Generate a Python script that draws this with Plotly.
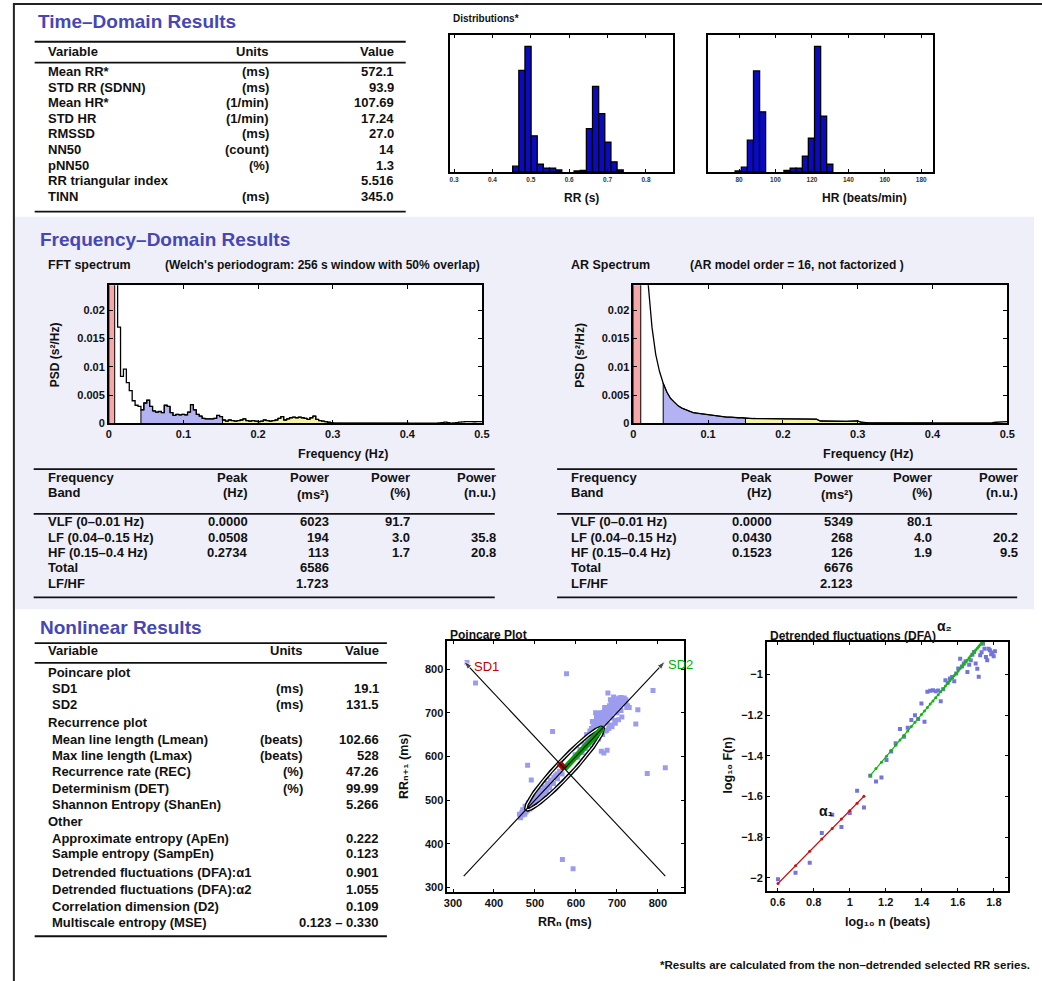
import numpy as np
import plotly.graph_objects as go

W, H = 1042, 981
FONT = "Liberation Sans, Arial, Helvetica, DejaVu Sans, sans-serif"
INK = "#111111"
HEAD = "#4646b6"
BAND = "#efeffa"

# ---------------- Time-domain results ----------------
time_vars = ["Mean RR*", "STD RR (SDNN)", "Mean HR*", "STD HR", "RMSSD", "NN50",
             "pNN50", "RR triangular index", "TINN"]
time_units = ["(ms)", "(ms)", "(1/min)", "(1/min)", "(ms)", "(count)", "(%)", "", "(ms)"]
time_values = ["572.1", "93.9", "107.69", "17.24", "27.0", "14", "1.3", "5.516", "345.0"]

# ---------------- RR / HR distributions ----------------
RR_BIN_WIDTH = 0.016
rr_bin_centers = [0.4607, 0.4767, 0.4927, 0.5087, 0.5247, 0.5407, 0.5567, 0.5727,
                  0.6207, 0.6367, 0.6527, 0.6687, 0.6847, 0.7007, 0.7167, 0.7327]
rr_counts = [12, 211, 261, 75, 16, 8, 8, 4, 2, 3, 90, 178, 121, 62, 21, 4]
rr_ticks = [0.3, 0.4, 0.5, 0.6, 0.7, 0.8]

HR_BIN_WIDTH = 3.35
hr_bin_centers = [79.5, 82.9, 86.2, 89.6, 92.9, 106.3, 109.7, 113.0, 116.4, 119.7,
                  123.1, 126.4, 129.8]
hr_counts = [2, 10, 66, 210, 125, 3, 8, 8, 33, 70, 261, 116, 16]
hr_ticks = [80, 100, 120, 140, 160, 180]

# ---------------- Frequency domain ----------------
FFT_WINDOW_S = 256          # Welch window length -> bin spacing 1/256 Hz
fft_psd = [
    0.095, 0.150, 0.060, 0.0170, 0.0083, 0.0096, 0.0072, 0.0058, 0.0040, 0.0032,
    0.0030, 0.0024, 0.0036, 0.0041, 0.0030, 0.0022, 0.0020, 0.0021, 0.0019, 0.0032,
    0.0030, 0.0019, 0.0014, 0.0016, 0.0015, 0.0016, 0.0015, 0.0020, 0.0033, 0.0024,
    0.0016, 0.0013, 0.0009, 0.0008, 0.0008, 0.0008, 0.0009, 0.0014, 0.0012, 0.0006,
    0.0004, 0.0006, 0.0005, 0.0004, 0.0005, 0.0006, 0.0008, 0.0005, 0.0004, 0.0005,
    0.0004, 0.0003, 0.0004, 0.0006, 0.0005, 0.0004, 0.0005, 0.0006, 0.0009, 0.0012,
    0.0006, 0.0008, 0.0010, 0.0011, 0.0010, 0.0011, 0.0010, 0.0009, 0.0007, 0.0010,
    0.0013, 0.0007, 0.0005, 0.0004, 0.0003, 0.0002, 0.0001, 0.00006, 0.00005, 0.00005,
    0.00004, 0.00004, 0.00004, 0.00004, 0.00004, 0.00004, 0.00004, 0.00004, 0.00004, 0.00004,
    0.00004, 0.00004, 0.00004, 0.00004, 0.00004, 0.00004, 0.00004, 0.00004, 0.00004, 0.00004,
    0.00004, 0.00004, 0.00004, 0.00004, 0.00004, 0.00004, 0.00004, 0.00004, 0.00004, 0.00004,
    0.00004, 0.00004, 0.00005, 0.00008, 0.00015, 0.00022, 0.00012, 0.00006, 0.00008, 0.00015,
    0.00022, 0.00028, 0.00030, 0.00031, 0.00030, 0.00029, 0.00030, 0.00031, 0.00030,
]

AR_STEP_HZ = 0.005
ar_psd = [
    0.30, 0.25, 0.15, 0.060, 0.0245, 0.0170, 0.0122, 0.0092, 0.0071, 0.0055,
    0.0044, 0.0037, 0.0031, 0.0027, 0.0024, 0.0021, 0.0019, 0.0018, 0.0017, 0.0016,
    0.0015, 0.0014, 0.0013, 0.0012, 0.0012, 0.0011, 0.0011, 0.0010, 0.0010, 0.0010,
    0.00092, 0.00088, 0.00086, 0.00085, 0.00084, 0.00083, 0.00082, 0.00082, 0.00081, 0.00081,
    0.00080, 0.00080, 0.00079, 0.00079, 0.00078, 0.00078, 0.00077, 0.00077, 0.00076, 0.00074,
    0.00042, 0.00040, 0.00039, 0.00038, 0.00037, 0.00036, 0.00036, 0.00037, 0.00039, 0.00041,
    0.00043, 0.00020, 0.00010, 0.00008, 0.00007, 0.00007, 0.00006, 0.00006, 0.00006, 0.00006,
    0.00006, 0.00006, 0.00006, 0.00006, 0.00006, 0.00006, 0.00006, 0.00006, 0.00006, 0.00006,
    0.00006, 0.00006, 0.00006, 0.00006, 0.00006, 0.00006, 0.00006, 0.00006, 0.00006, 0.00006,
    0.00006, 0.00006, 0.00006, 0.00007, 0.00008, 0.00010, 0.00014, 0.00020, 0.00026, 0.00030,
    0.00032,
]

band_limits = {"VLF": (0.0, 0.01), "LF": (0.04, 0.15), "HF": (0.15, 0.40)}
band_colors = {"VLF": "#f6a8a8", "LF": "#b3b3f4", "HF": "#f4f4a2"}

freq_bands = ["VLF (0–0.01 Hz)", "LF (0.04–0.15 Hz)", "HF (0.15–0.4 Hz)", "Total", "LF/HF"]
fft_peak = ["0.0000", "0.0508", "0.2734", "", ""]
fft_power = ["6023", "194", "113", "6586", "1.723"]
fft_pct = ["91.7", "3.0", "1.7", "", ""]
fft_nu = ["", "35.8", "20.8", "", ""]
ar_peak = ["0.0000", "0.0430", "0.1523", "", ""]
ar_power = ["5349", "268", "126", "6676", "2.123"]
ar_pct = ["80.1", "4.0", "1.9", "", ""]
ar_nu = ["", "20.2", "9.5", "", ""]

# ---------------- Nonlinear results ----------------
nl_labels = ["Poincare plot", "SD1", "SD2", "Recurrence plot", "Mean line length (Lmean)",
             "Max line length (Lmax)", "Recurrence rate (REC)", "Determinism (DET)",
             "Shannon Entropy (ShanEn)", "Other", "Approximate entropy (ApEn)",
             "Sample entropy (SampEn)", "Detrended fluctuations (DFA):α1",
             "Detrended fluctuations (DFA):α2", "Correlation dimension (D2)",
             "Multiscale entropy (MSE)"]
nl_units = ["", "(ms)", "(ms)", "", "(beats)", "(beats)", "(%)", "(%)", "", "", "", "",
            "", "", "", ""]
nl_values = ["", "19.1", "131.5", "", "102.66", "528", "47.26", "99.99", "5.266", "",
             "0.222", "0.123", "0.901", "1.055", "0.109", "0.123 – 0.330"]
nl_sections = {"Poincare plot", "Recurrence plot", "Other"}

mean_rr = 572.1
sd1 = 19.1
sd2 = 131.5

rr_n = [
    462, 465, 468, 470, 472, 474, 476, 478, 480, 482, 484, 486, 488, 490, 492, 494, 496, 498,
    500, 502, 505, 508, 511, 514, 517, 520, 524, 528, 532, 536, 540, 545, 550, 555, 560, 566,
    470, 476, 484, 490, 498, 506, 514, 522, 530, 538, 546, 554, 475, 488, 500,
    598, 604, 610, 615, 620, 624, 628, 632, 636, 638, 640, 643, 645, 647, 650, 652, 654, 656,
    658, 660, 662, 664, 666, 668, 670, 672, 674, 676, 678, 680, 682, 684, 686, 688, 690, 692,
    694, 696, 698, 700, 702, 704, 706, 708, 710, 714, 718, 722, 726, 730,
    640, 650, 660, 655, 665, 675, 685, 695, 648, 670, 690, 700, 710, 688, 676, 664, 652, 640,
    662, 668, 676,
    626, 630, 634, 638, 642, 646, 650, 654, 658, 662, 666, 670, 674, 678, 682, 686, 690, 694,
    698, 702, 706, 710, 714, 718, 722, 712, 704, 696, 688, 680, 672, 664, 656, 648, 700, 708,
    716, 724, 692, 684,
    334, 355, 577, 678, 788, 751, 746, 543, 482, 491, 774, 818, 567, 593,
]
rr_n1 = [
    468, 460, 472, 466, 475, 470, 479, 473, 484, 477, 488, 481, 492, 485, 496, 489, 500, 493,
    505, 497, 510, 502, 514, 507, 519, 512, 526, 519, 535, 528, 546, 538, 556, 549, 566, 560,
    478, 486, 494, 500, 508, 515, 522, 530, 538, 545, 552, 560, 468, 480, 492,
    604, 598, 616, 609, 628, 618, 636, 626, 645, 632, 652, 640, 660, 648, 666, 655, 672, 662,
    676, 668, 682, 673, 688, 678, 692, 683, 697, 688, 702, 693, 706, 697, 710, 701, 714, 705,
    718, 709, 722, 713, 725, 716, 728, 719, 726, 722, 728, 720, 716, 712,
    680, 690, 700, 640, 650, 660, 672, 682, 700, 712, 728, 700, 705, 688, 676, 664, 652, 640,
    612, 608, 614,
    650, 646, 658, 664, 668, 676, 680, 684, 690, 694, 700, 704, 708, 712, 716, 720, 724, 726,
    730, 732, 734, 735, 730, 734, 730, 690, 684, 676, 668, 664, 658, 650, 644, 636, 728, 718,
    724, 712, 736, 730,
    815, 768, 789, 745, 751, 707, 674, 657, 580, 546, 561, 574, 364, 343,
]

# DFA: log10(n) against log10 F(n)
dfa_x1 = [0.602, 0.699, 0.778, 0.845, 0.903, 0.954, 1.000, 1.041, 1.079]
dfa_y1 = [-2.008, -1.975, -1.926, -1.780, -1.690, -1.750, -1.681, -1.572, -1.654]
dfa_x2 = [1.114, 1.146, 1.176, 1.204, 1.230, 1.255, 1.279, 1.301, 1.322, 1.342, 1.362,
          1.380, 1.398, 1.415, 1.431, 1.447, 1.462, 1.477, 1.491, 1.505, 1.519, 1.531,
          1.544, 1.556, 1.568, 1.580, 1.591, 1.602, 1.613, 1.623, 1.633, 1.643, 1.653,
          1.663, 1.672, 1.681, 1.690, 1.699, 1.708, 1.716, 1.724, 1.732, 1.740, 1.748,
          1.756, 1.763, 1.771, 1.778, 1.785, 1.792, 1.799, 1.806]
dfa_y2 = [-1.498, -1.526, -1.507, -1.420, -1.379, -1.338, -1.268, -1.306, -1.262, -1.224,
          -1.200, -1.219, -1.142, -1.232, -1.085, -1.080, -1.077, -1.082, -1.078, -1.131,
          -1.072, -1.028, -1.040, -1.020, -1.012, -1.033, -0.995, -0.970, -0.922, -0.960,
          -0.946, -0.935, -0.987, -0.952, -0.930, -0.902, -0.889, -0.946, -0.971, -1.011,
          -0.905, -0.890, -0.848, -0.873, -0.913, -0.930, -0.873, -0.880, -0.900, -0.892,
          -0.910, -0.885]
alpha1, intercept1 = 0.901, -2.571
alpha2, intercept2 = 1.055, -2.672

# =====================================================================
annotations = []
shapes = []


def X(p):
    return p / W


def Y(p):
    return 1 - p / H


def label(x, y, s, size=13, anchor="left", color=INK, bold=True, angle=0):
    if not s:
        return
    annotations.append(dict(
        x=X(x), y=Y(y), xref="paper", yref="paper", text=s, showarrow=False,
        xanchor=anchor, yanchor="middle", textangle=angle,
        font=dict(family=FONT, size=size, color=color, weight="bold" if bold else "normal"),
    ))


def rule(x0, x1, y, width=1.8):
    shapes.append(dict(type="line", xref="paper", yref="paper", x0=X(x0), x1=X(x1),
                       y0=Y(y), y1=Y(y), line=dict(color=INK, width=width)))


def rect(x0, y0, x1, y1, fill, layer="below"):
    shapes.append(dict(type="rect", xref="paper", yref="paper", x0=X(x0), x1=X(x1),
                       y0=Y(y1), y1=Y(y0), fillcolor=fill, layer=layer,
                       line=dict(color=fill, width=0)))


def axis(x0, x1, y0, y1):
    xa = dict(domain=[X(x0), X(x1)], showline=True, linecolor="black", linewidth=1.6,
              mirror="ticks", ticks="inside", ticklen=4, tickcolor="black", showgrid=False,
              zeroline=False, fixedrange=True,
              tickfont=dict(family=FONT, size=11, color=INK, weight="bold"))
    ya = dict(xa)
    ya["domain"] = [Y(y1), Y(y0)]
    return xa, ya


# page background, frequency band and frame
rect(12, 218, 1042, 613, BAND)
plot_boxes = {
    "rr": (452, 677, 35, 173), "hr": (713, 940, 35, 173),
    "fft": (107, 484, 287, 426), "ar": (637, 1015, 287, 426),
    "pc": (449, 688, 645, 897), "dfa": (772, 1016, 646, 896),
}
for bx in plot_boxes.values():
    rect(bx[0], bx[2], bx[1], bx[3], "white")
shapes.append(dict(type="rect", xref="paper", yref="paper", x0=X(11), x1=X(1060),
                   y0=Y(1010), y1=Y(4), line=dict(color="#222222", width=2), layer="above"))

fig = go.Figure()

# ---------------- Time-domain table ----------------
label(33, 22, "Time–Domain Results", size=19, color=HEAD)
rule(32, 407, 42)
label(43, 52, "Variable")
label(271, 52, "Units", anchor="right")
label(397, 52, "Value", anchor="right")
rule(32, 407, 63)
for i, (v, u, val) in enumerate(zip(time_vars, time_units, time_values)):
    y = 72 + 15.7 * i
    label(43, y, v)
    label(271, y, u, anchor="right")
    label(397, y, val, anchor="right")
rule(32, 407, 213)

# ---------------- Histograms ----------------
label(453, 19, "Distributions*", size=10)
xa, ya = axis(*plot_boxes["rr"])
xa.update(range=[0.29, 0.87], tickvals=rr_ticks, ticktext=[f"{t:g}" for t in rr_ticks],
          ticklen=3, tickfont=dict(family=FONT, size=6.5, color="#333", weight="bold"))
ya.update(range=[0, 285], ticks="", showticklabels=False, mirror=True)
fig.add_trace(go.Bar(x=rr_bin_centers, y=rr_counts, width=RR_BIN_WIDTH,
                     marker=dict(color="#0a0ac4", line=dict(color="black", width=1.3)),
                     xaxis="x", yaxis="y", showlegend=False))
label(565, 199, "RR (s)", size=12)

xa2, ya2 = axis(*plot_boxes["hr"])
xa2.update(range=[63.2, 186.5], tickvals=hr_ticks, ticktext=[str(t) for t in hr_ticks],
           ticklen=3, tickfont=dict(family=FONT, size=6.5, color="#333", weight="bold"))
ya2.update(range=[0, 285], ticks="", showticklabels=False, mirror=True)
fig.add_trace(go.Bar(x=hr_bin_centers, y=hr_counts, width=HR_BIN_WIDTH,
                     marker=dict(color="#0a0ac4", line=dict(color="black", width=1.3)),
                     xaxis="x2", yaxis="y2", showlegend=False))
label(826, 199, "HR (beats/min)", size=12)

# ---------------- Spectra ----------------
label(35, 241, "Frequency–Domain Results", size=19, color=HEAD)
label(43, 267, "FFT spectrum", size=12.5)
label(162, 267, "(Welch's periodogram: 256 s window with 50% overlap)", size=12)
label(572, 267, "AR Spectrum", size=12.5)
label(692, 267, "(AR model order = 16, not factorized )", size=12)

fft_freq = list(np.arange(len(fft_psd)) / FFT_WINDOW_S)
ar_freq = list(np.arange(len(ar_psd)) * AR_STEP_HZ)


def band_polygon(freqs, psd, lo, hi, close_step):
    idx = [i for i, f in enumerate(freqs) if lo <= f <= hi]
    fx = [freqs[i] for i in idx]
    fy = [psd[i] for i in idx]
    return [fx[0]] + fx + [fx[-1] + close_step], [0] + fy + [0]


psd_ticks = [0, 0.005, 0.01, 0.015, 0.02]
psd_text = ["0", "0.005", "0.01", "0.015", "0.02"]
f_ticks = [0, 0.1, 0.2, 0.3, 0.4, 0.5]

spectra = [("fft", fft_freq, fft_psd, "hv", "x3", "y3",
            {"VLF": 0, "LF": 1 / FFT_WINDOW_S, "HF": 1 / FFT_WINDOW_S}),
           ("ar", ar_freq, ar_psd, "linear", "x4", "y4", {"VLF": 0, "LF": 0, "HF": 0})]
spec_axes = {}
for key, fr, ps, shape, xr, yr, closes in spectra:
    for band, (lo, hi) in band_limits.items():
        px_, py_ = band_polygon(fr, ps, lo, hi, closes[band])
        fig.add_trace(go.Scatter(x=px_, y=py_, mode="lines", fill="toself",
                                 fillcolor=band_colors[band], line=dict(color="black", width=1, shape=shape),
                                 xaxis=xr, yaxis=yr, showlegend=False, hoverinfo="skip"))
    fig.add_trace(go.Scatter(x=fr, y=ps, mode="lines", line=dict(color="black", width=1.3, shape=shape),
                             xaxis=xr, yaxis=yr, showlegend=False))
    sx, sy = axis(*plot_boxes[key])
    sx.update(range=[0, 0.5], tickvals=f_ticks, ticktext=[f"{t:g}" for t in f_ticks])
    sy.update(range=[0, 0.0244], tickvals=psd_ticks, ticktext=psd_text)
    spec_axes[key] = (sx, sy)

label(296, 457, "Frequency (Hz)", size=12.5)
label(52, 357, "PSD (s²/Hz)", size=12, anchor="center", angle=-90)
label(827, 457, "Frequency (Hz)", size=12.5)
label(583, 357, "PSD (s²/Hz)", size=12, anchor="center", angle=-90)


# ---------------- Frequency tables ----------------
def freq_table(x0, x1, col_x, peak, power, pct, nu):
    rule(x0, x1, 472)
    label(col_x[0], 480, "Frequency")
    label(col_x[0], 496, "Band")
    label(col_x[1], 480, "Peak", anchor="right")
    label(col_x[1], 496, "(Hz)", anchor="right")
    label(col_x[2], 480, "Power", anchor="right")
    label(col_x[2], 498, "(ms²)", anchor="right")
    label(col_x[3], 480, "Power", anchor="right")
    label(col_x[3], 496, "(%)", anchor="right")
    label(col_x[4], 480, "Power", anchor="right")
    label(col_x[4], 496, "(n.u.)", anchor="right")
    rule(x0, x1, 517)
    for i, name in enumerate(freq_bands):
        y = 525 + 15.4 * i
        label(col_x[0], y, name)
        for c, col in enumerate((peak, power, pct, nu)):
            label(col_x[c + 1], y, col[i], anchor="right")
    rule(x0, x1, 601)


freq_table(31, 497, [43, 250, 332, 413, 500], fft_peak, fft_power, fft_pct, fft_nu)
freq_table(560, 1025, [572, 779, 861, 941, 1028], ar_peak, ar_power, ar_pct, ar_nu)

# ---------------- Nonlinear table ----------------
label(35, 631, "Nonlinear Results", size=19, color=HEAD)
rule(32, 388, 647)
label(43, 655, "Variable")
label(305, 655, "Units", anchor="right")
label(382, 655, "Value", anchor="right")
rule(32, 388, 667)
nl_rows_y = [677, 693, 709, 727, 744, 760, 776, 793, 809, 827, 844, 859, 878, 895, 912, 928]
for y, name, unit, val in zip(nl_rows_y, nl_labels, nl_units, nl_values):
    label(43 if name in nl_sections else 47, y, name)
    label(305, y, unit, anchor="right")
    label(382, y, val, anchor="right")
rule(32, 388, 942)

# ---------------- Poincare plot ----------------
label(450, 639, "Poincare Plot", size=12)
fig.add_trace(go.Scatter(x=rr_n, y=rr_n1, mode="markers",
                         marker=dict(symbol="square", size=5, color="#9c9cef"),
                         xaxis="x5", yaxis="y5", showlegend=False))
t = np.linspace(0, 2 * np.pi, 240)
ex = mean_rr + (sd2 * np.cos(t) - sd1 * np.sin(t)) / np.sqrt(2)
ey = mean_rr + (sd2 * np.cos(t) + sd1 * np.sin(t)) / np.sqrt(2)
fig.add_trace(go.Scatter(x=ex, y=ey, mode="lines", line=dict(color="black", width=4),
                         xaxis="x5", yaxis="y5", showlegend=False, hoverinfo="skip"))
fig.add_trace(go.Scatter(x=ex, y=ey, mode="lines", line=dict(color="white", width=1.2),
                         xaxis="x5", yaxis="y5", showlegend=False, hoverinfo="skip"))
r2 = np.sqrt(2)
fig.add_trace(go.Scatter(x=[mean_rr, mean_rr + sd2 / r2], y=[mean_rr, mean_rr + sd2 / r2],
                         mode="lines", line=dict(color="#00a300", width=6),
                         xaxis="x5", yaxis="y5", showlegend=False))
fig.add_trace(go.Scatter(x=[mean_rr, mean_rr - sd1 / r2], y=[mean_rr, mean_rr + sd1 / r2],
                         mode="lines", line=dict(color="#b00000", width=6),
                         xaxis="x5", yaxis="y5", showlegend=False))
# SD1 / SD2 axes drawn as arrows through the mean, spanning the data extent
reach = max(max(rr_n) - mean_rr, mean_rr - min(rr_n))
for (tx, ty), (hx, hy) in [((mean_rr + reach, mean_rr - reach), (mean_rr - reach, mean_rr + reach)),
                           ((mean_rr - reach, mean_rr - reach), (mean_rr + reach, mean_rr + reach))]:
    fig.add_trace(go.Scatter(x=[tx, hx], y=[ty, hy], mode="lines+markers",
                             line=dict(color="black", width=1.1),
                             marker=dict(symbol="arrow", angleref="previous", size=[0, 9],
                                         color="black"),
                             xaxis="x5", yaxis="y5", showlegend=False, hoverinfo="skip"))
annotations.append(dict(x=mean_rr - reach + 20, y=mean_rr + reach - 12, xref="x5", yref="y5",
                        text="SD1", showarrow=False, xanchor="left",
                        font=dict(family=FONT, size=13, color="#c00000")))
annotations.append(dict(x=mean_rr + reach + 2, y=mean_rr + reach - 8, xref="x5", yref="y5",
                        text="SD2", showarrow=False, xanchor="left",
                        font=dict(family=FONT, size=13, color="#00b000")))
pcx, pcy = axis(*plot_boxes["pc"])
pcx.update(range=[286, 863], tickvals=[300, 400, 500, 600, 700, 800], ticklen=3)
pcy.update(range=[291, 864], tickvals=[300, 400, 500, 600, 700, 800], ticklen=3)
label(568, 928, "RRₙ (ms)", size=12.5, anchor="center")
label(406, 771, "RRₙ₊₁ (ms)", size=12.5, anchor="center", angle=-90)

# ---------------- DFA ----------------
label(773, 640, "Detrended fluctuations (DFA)", size=12)
fig.add_trace(go.Scatter(x=dfa_x1 + dfa_x2, y=dfa_y1 + dfa_y2, mode="markers",
                         marker=dict(symbol="square", size=4, color="#7474de"),
                         xaxis="x6", yaxis="y6", showlegend=False))
fig.add_trace(go.Scatter(x=dfa_x1, y=[alpha1 * v + intercept1 for v in dfa_x1], mode="lines+markers",
                         line=dict(color="#cc1111", width=1.2), marker=dict(size=3, color="#cc1111"),
                         xaxis="x6", yaxis="y6", showlegend=False))
fig.add_trace(go.Scatter(x=dfa_x2, y=[alpha2 * v + intercept2 for v in dfa_x2], mode="lines+markers",
                         line=dict(color="#11b511", width=1.2), marker=dict(size=3, color="#11b511"),
                         xaxis="x6", yaxis="y6", showlegend=False))
dfx, dfy = axis(*plot_boxes["dfa"])
dfx.update(range=[0.54, 1.88], tickvals=[0.6, 0.8, 1.0, 1.2, 1.4, 1.6, 1.8],
           ticktext=["0.6", "0.8", "1", "1.2", "1.4", "1.6", "1.8"], ticklen=3)
dfy.update(range=[-2.063, -0.84], tickvals=[-2, -1.8, -1.6, -1.4, -1.2, -1],
           ticktext=["−2", "−1.8", "−1.6", "−1.4", "−1.2", "−1"], ticklen=3)
label(832, 816, "α₁", size=14, anchor="center")
label(952, 630, "α₂", size=14, anchor="center")
label(894, 928, "log₁₀ n (beats)", size=12.5, anchor="center")
label(733, 770, "log₁₀ F(n)", size=12.5, anchor="center", angle=-90)

# ---------------- Footnote ----------------
label(1040, 971, "*Results are calculated from the non–detrended selected RR series.", size=11.5,
      anchor="right")

fig.update_layout(
    width=W, height=H, autosize=False,
    margin=dict(l=0, r=0, t=0, b=0),
    paper_bgcolor="white", plot_bgcolor="rgba(0,0,0,0)",
    font=dict(family=FONT, color=INK),
    showlegend=False,
    xaxis=xa, yaxis=ya, xaxis2=xa2, yaxis2=ya2,
    xaxis3=spec_axes["fft"][0], yaxis3=spec_axes["fft"][1],
    xaxis4=spec_axes["ar"][0], yaxis4=spec_axes["ar"][1],
    xaxis5=pcx, yaxis5=pcy, xaxis6=dfx, yaxis6=dfy,
    annotations=annotations, shapes=shapes,
)
for i in range(1, 7):
    s = "" if i == 1 else str(i)
    fig.layout["xaxis" + s].anchor = "y" + s
    fig.layout["yaxis" + s].anchor = "x" + s

fig.write_html("out.html", config={"displayModeBar": False})
